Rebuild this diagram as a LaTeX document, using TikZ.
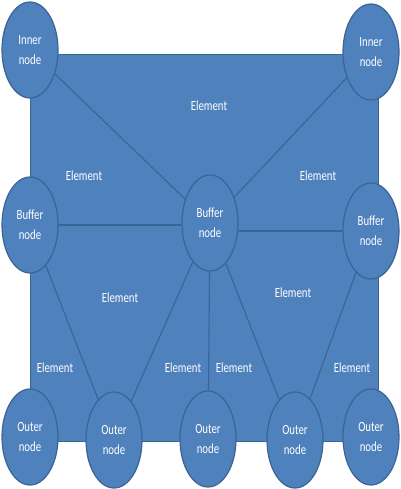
\documentclass[tikz,border=0pt]{standalone}
\usepackage{fontspec}
\setmainfont{Carlito}[FakeStretch=0.77]
\usetikzlibrary{shapes.geometric}

\definecolor{meshfill}{HTML}{4F81BD}
\definecolor{meshline}{HTML}{3A6495}

\tikzset{
	meshnode/.style={ellipse,draw=meshline,line width=1.2pt,fill=meshfill,
		minimum width=56pt,minimum height=96pt,inner sep=0pt,
		text=white,align=center,font=\fontsize{14}{20}\selectfont},
	edge/.style={draw=meshline,line width=1.1pt},
	elem/.style={text=white,font=\fontsize{14}{16}\selectfont}
}

\begin{document}
\begin{tikzpicture}[x=1pt,y=-1pt]
		
		% Page frame
		\useasboundingbox (0,0) rectangle (400,489);
		
		% Body of the mesh
		\draw[fill=meshfill,draw=meshline,line width=0.6pt] (30,54) rectangle (378,441);
		
		% Inner nodes
		\node[meshnode] (innerL) at (30,50) {Inner\\node};
		\node[meshnode] (innerR) at (371,52) {Inner\\node};
		
		% Buffer nodes
		\node[meshnode] (bufL) at (30,225) {Buffer\\node};
		\node[meshnode] (bufC) at (210,223) {Buffer\\node};
		\node[meshnode] (bufR) at (371,231) {Buffer\\node};
		
		% Outer nodes along the bottom
		\node[meshnode] (outA) at (30,437) {Outer\\node};
		\node[meshnode] (outB) at (114,440) {Outer\\node};
		\node[meshnode] (outC) at (208,439) {Outer\\node};
		\node[meshnode] (outD) at (295,440) {Outer\\node};
		\node[meshnode] (outE) at (371,437) {Outer\\node};
		
		% Element edges
		\draw[edge] (innerL) -- (bufC);
		\draw[edge] (innerR) -- (bufC);
		\draw[edge] (bufL) -- (bufC.west |- bufL);
		\draw[edge] (bufC.east |- bufR) -- (bufR);
		\draw[edge] (bufL) -- (outB);
		\draw[edge] (bufC) -- (outB);
		\draw[edge] (bufC) -- (outC);
		\draw[edge] (bufC) -- (outD);
		\draw[edge] (bufR) -- (outD);
		
		% Element labels
		\node[elem] (e1) at (209,106) {Element};
		\node[elem] (e2) at (84,176) {Element};
		\node[elem] (e3) at (318,176) {Element};
		\node[elem] (e4) at (120,298) {Element};
		\node[elem] (e5) at (293,293) {Element};
		\node[elem] (e6) at (55,368) {Element};
		\node[elem] (e7) at (183,368) {Element};
		\node[elem] (e8) at (234,368) {Element};
		\node[elem] (e9) at (352,368) {Element};
		
	\end{tikzpicture}
\end{document}
